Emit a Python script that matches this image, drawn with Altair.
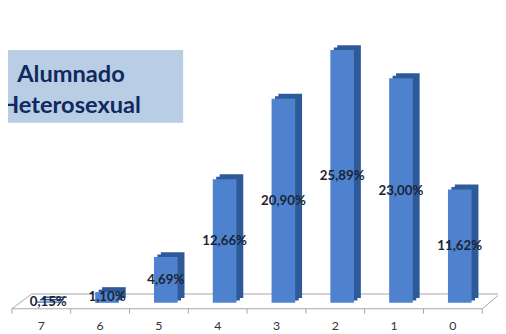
import altair as alt
import pandas as pd

categories = ["7", "6", "5", "4", "3", "2", "1", "0"]
values = [0.15, 1.10, 4.69, 12.66, 20.90, 25.89, 23.00, 11.62]
value_labels = [f"{v:.2f}".replace(".", ",") + "%" for v in values]
title_lines = ["Alumnado", "Heterosexual"]

df = pd.DataFrame({"cat": categories, "val": values, "lab": value_labels})
one = pd.DataFrame({"k": [0]})

FLOOR = "#a6a6a6"
FRONT = "#4e82cf"
BACK = "#2f5a99"

xenc = alt.X("cat:N", sort=categories,
             scale=alt.Scale(paddingInner=0, paddingOuter=0), axis=None)
yenc = alt.Y("val:Q", scale=alt.Scale(domain=[0, 26], nice=False), axis=None)

# title box
box = alt.Chart(one).mark_rect(color="#b9cde5").encode(
    x=alt.value(-13), x2=alt.value(174), y=alt.value(1), y2=alt.value(75))
t1 = alt.Chart(one).mark_text(font="Lato", fontWeight="bold", fontSize=24,
                              color="#10295e", baseline="alphabetic", align="center",
                              text=title_lines[0]).encode(x=alt.value(60), y=alt.value(34))
t2 = alt.Chart(one).mark_text(font="Lato", fontWeight="bold", fontSize=24,
                              color="#10295e", baseline="alphabetic", align="center",
                              text=title_lines[1]).encode(x=alt.value(60), y=alt.value(65))

# floor
front_edge = alt.Chart(one).mark_rule(color=FLOOR).encode(
    x=alt.value(0), x2=alt.value(478), y=alt.value(264), y2=alt.value(264))
back_edge = alt.Chart(one).mark_rule(color=FLOOR).encode(
    x=alt.value(20), x2=alt.value(500), y=alt.value(249), y2=alt.value(249))
left_edge = alt.Chart(one).mark_rule(color=FLOOR).encode(
    x=alt.value(0), x2=alt.value(20), y=alt.value(264), y2=alt.value(249))
right_edge = alt.Chart(one).mark_rule(color=FLOOR).encode(
    x=alt.value(478), x2=alt.value(496), y=alt.value(264), y2=alt.value(249))
ticks = alt.Chart(df).mark_rule(color=FLOOR).encode(
    x=alt.X("cat:N", sort=categories, bandPosition=0,
            scale=alt.Scale(paddingInner=0, paddingOuter=0), axis=None),
    y=alt.value(264), y2=alt.value(269))
last_tick = alt.Chart(one).mark_rule(color=FLOOR).encode(
    x=alt.value(478), x2=alt.value(478), y=alt.value(264), y2=alt.value(269))

base = alt.Chart(df)
back2 = base.mark_bar(color=BACK, size=24, xOffset=14, x2Offset=14,
                      yOffset=-5, y2Offset=-5).encode(x=xenc, y=yenc)
back1 = base.mark_bar(color=BACK, size=24, xOffset=10.5, x2Offset=10.5,
                      yOffset=-2.5, y2Offset=-2.5).encode(x=xenc, y=yenc)
front = base.mark_bar(color=FRONT, size=24, xOffset=7, x2Offset=7).encode(x=xenc, y=yenc)
labels = base.transform_calculate(mid="datum.val / 2").mark_text(
    font="Lato", fontWeight="bold", fontSize=13.5, color="#1b2433", dx=7,
    baseline="middle").encode(
        x=xenc,
        y=alt.Y("mid:Q", scale=alt.Scale(domain=[0, 26], nice=False), axis=None),
        text="lab:N")
cat_labels = base.mark_text(font="Lato", fontSize=12.5, color="#333333",
                            baseline="middle").encode(
    x=xenc, y=alt.value(282), text="cat:N")

chart = alt.layer(box, t1, t2, back_edge, left_edge, right_edge, front_edge, ticks, last_tick,
                  back2, back1, front, labels, cat_labels).properties(
    width=478, height=258,
    autosize=alt.AutoSizeParams(type="none"),
    padding={"left": 4, "top": 39, "right": 16, "bottom": 29},
).configure_view(stroke=None)

chart.save("out.html", embed_options={"renderer": "svg", "actions": False})
